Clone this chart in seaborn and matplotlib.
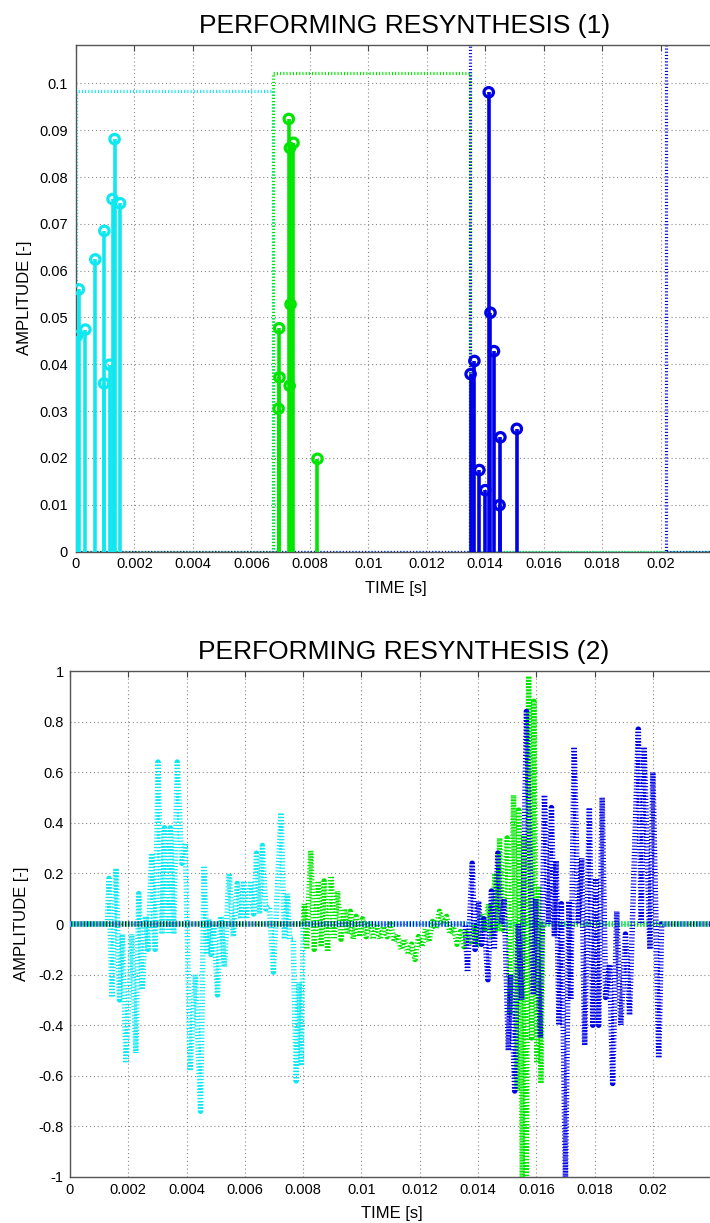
import numpy as np
import matplotlib
matplotlib.use("Agg")
import matplotlib.pyplot as plt
import seaborn as sns
from matplotlib.ticker import FuncFormatter

# ===============================
# Data
# ===============================

# --- panel 1: peak amplitudes per frame (stems)
cyan_peak_t = [0.00003, 0.0001, 0.00032, 0.00066, 0.00096, 0.00097, 0.00115, 0.00125, 0.00132, 0.00151]
cyan_peak_a = [0.046, 0.056, 0.0474, 0.0624, 0.0359, 0.0685, 0.0399, 0.0753, 0.0881, 0.0744]

green_peak_t = [0.00693, 0.00695, 0.00696, 0.00728, 0.00731, 0.00732, 0.00734, 0.00744, 0.00826]
green_peak_a = [0.0305, 0.0477, 0.0372, 0.0924, 0.0354, 0.0862, 0.0528, 0.0873, 0.0198]

blue_peak_t = [0.0135, 0.01363, 0.0138, 0.0140, 0.01412, 0.01418, 0.0143, 0.01449, 0.01452, 0.01508]
blue_peak_a = [0.0379, 0.0407, 0.0174, 0.0131, 0.0981, 0.051, 0.0428, 0.0099, 0.0244, 0.0262]

# --- panel 1: analysis windows (dotted rectangles)
cyan_win_t = [0.0, 0.0, 0.00675, 0.00675, 0.0229]
cyan_win_a = [0.0, 0.0983, 0.0983, 0.0, 0.0]
green_win_t = [0.0, 0.00675, 0.00675, 0.01348, 0.01348, 0.0229]
green_win_a = [0.0, 0.0, 0.1023, 0.1023, 0.0, 0.0]
blue_win_t = [0.0, 0.01348, 0.01348, 0.0202, 0.0202, 0.0229]
blue_win_a = [0.0, 0.0, 0.13, 0.13, 0.0, 0.0]

# --- panel 2: resynthesised frames (extremes of each oscillation column)
cyan_t = [0.0, 0.00128,
          0.00134, 0.00144, 0.00158, 0.00170, 0.00180, 0.00192, 0.00212, 0.00226,
          0.00236, 0.00248, 0.00260, 0.00268, 0.00280, 0.00292, 0.00302, 0.00316,
          0.00324, 0.00338, 0.00344, 0.00356, 0.00368, 0.00384, 0.00396, 0.00412,
          0.00430, 0.00448, 0.00460, 0.00470, 0.00476, 0.00484, 0.00494, 0.00506,
          0.00518, 0.00530, 0.00546, 0.00560, 0.00574, 0.00586, 0.00596, 0.00606,
          0.00620, 0.00630, 0.00640, 0.00650, 0.00660, 0.00672, 0.00684, 0.00698,
          0.00724, 0.00736, 0.00746, 0.00754, 0.00766, 0.00776, 0.00786, 0.00794,
          0.00800, 0.0229]
cyan_y = [0.0, 0.0,
          0.18, -0.29, 0.22, -0.30, -0.04, -0.55, -0.04, -0.51,
          0.12, -0.26, 0.03, -0.10, 0.28, -0.10, 0.64, -0.04,
          0.38, -0.04, 0.38, -0.04, 0.64, 0.24, 0.32, -0.58,
          -0.20, -0.74, 0.23, -0.12, 0.02, -0.12, 0.00, -0.28,
          0.03, -0.17, 0.20, -0.05, 0.16, 0.02, 0.17, 0.02,
          0.17, 0.04, 0.28, 0.04, 0.31, 0.06, 0.07, -0.19,
          0.44, -0.06, 0.12, -0.06, -0.06, -0.62, -0.23, -0.56,
          0.0, 0.0]

green_t = [0.0, 0.00800,
           0.00804, 0.00812, 0.00826, 0.00838, 0.00852, 0.00862, 0.00872, 0.00884,
           0.00896, 0.00906, 0.00918, 0.00930, 0.00942, 0.00952,
           0.00962, 0.00972, 0.00982, 0.00994, 0.01004, 0.01016, 0.01028, 0.01040,
           0.01052, 0.01064, 0.01076, 0.01088, 0.01100, 0.01112, 0.01124, 0.01136,
           0.01148, 0.01160, 0.01172, 0.01184, 0.01196, 0.01208, 0.01220, 0.01232,
           0.01244, 0.01256, 0.01268, 0.01280, 0.01292, 0.01304, 0.01316, 0.01328,
           0.01340, 0.01352, 0.01364, 0.01376, 0.01388, 0.01400, 0.01412, 0.01424,
           0.01436, 0.01448,
           0.01458, 0.01466, 0.01474, 0.01484, 0.01500, 0.01510, 0.01522, 0.01534,
           0.01540, 0.01552, 0.01558, 0.01566, 0.01574, 0.01584, 0.01592, 0.01602,
           0.01608, 0.01616, 0.01622, 0.0229]
green_y = [0.0, 0.0,
           0.08, -0.10, 0.29, -0.10, 0.17, -0.09, 0.17, -0.11,
           0.19, -0.06, 0.13, -0.06, 0.06, -0.04,
           0.05, -0.06, 0.03, -0.05, 0.02, -0.05, 0.01, -0.06,
           0.00, -0.06, -0.01, -0.05, 0.00, -0.07, -0.04, -0.10,
           -0.06, -0.12, -0.08, -0.14, -0.05, -0.09, -0.02, -0.07,
           0.01, -0.02, 0.05, 0.00, 0.03, -0.04, -0.01, -0.08,
           -0.03, -0.09, -0.02, -0.07, 0.00, -0.08, 0.04, -0.03,
           0.08, -0.06,
           0.20, -0.03, 0.34, -0.02, 0.34, -0.35, 0.51, -0.66,
           0.45, -1.0, 0.35, -1.0, 0.98, -0.45, 0.88, -0.55,
           0.15, -0.63, 0.0, 0.0]

blue_t = [0.0, 0.01350,
          0.01356, 0.01364, 0.01380, 0.01390, 0.01402, 0.01412, 0.01420, 0.01434,
          0.01446, 0.01456, 0.01468, 0.01480, 0.01490, 0.01504, 0.01512, 0.01526,
          0.01538, 0.01550, 0.01566, 0.01590, 0.01598, 0.01614, 0.01628, 0.01642,
          0.01652, 0.01662, 0.01668, 0.01678, 0.01686, 0.01700, 0.01712, 0.01718,
          0.01730, 0.01744, 0.01756, 0.01766, 0.01782, 0.01794, 0.01804, 0.01814,
          0.01826, 0.01838, 0.01852, 0.01862, 0.01876, 0.01890, 0.01906, 0.01920,
          0.01950, 0.01960, 0.01970, 0.01990, 0.02000, 0.02020,
          0.02030, 0.0229]
blue_y = [0.0, 0.0,
          0.00, -0.19, 0.24, -0.10, 0.09, -0.08, 0.02, -0.22,
          0.13, -0.10, 0.28, 0.00, 0.10, -0.50, -0.20, -0.66,
          0.00, -0.30, 0.84, -0.28, 0.10, -0.45, 0.51, 0.00,
          0.46, -0.05, 0.25, -0.40, 0.08, -1.0, 0.09, -0.30,
          0.70, 0.00, 0.26, -0.48, 0.46, -0.40, 0.18, -0.40,
          0.50, -0.29, -0.16, -0.63, 0.05, -0.40, -0.04, -0.36,
          0.77, 0.00, 0.70, -0.10, 0.60, -0.53,
          0.0, 0.0]

titles = ["PERFORMING RESYNTHESIS (1)", "PERFORMING RESYNTHESIS (2)"]
xlabel = "TIME [s]"
ylabel = "AMPLITUDE [-]"

CYAN, GREEN, BLUE = "#10e8f0", "#00e600", "#0000e6"

# ===============================
# Style
# ===============================

sns.set_style("white")
plt.rcParams["font.family"] = ["Liberation Sans", "DejaVu Sans"]
plt.rcParams["text.color"] = "black"

fig = plt.figure(figsize=(7.1, 12.23), dpi=100)
W, H = 710, 1223
ax1 = fig.add_axes([76 / W, (H - 551.5) / H, (W - 76) / W, (551.5 - 45) / H])
ax2 = fig.add_axes([70 / W, (H - 1177) / H, (W - 70) / W, (1177 - 671) / H])


def tick_fmt(v, pos):
    v = round(v, 6)
    if abs(v) < 1e-9:
        v = 0.0
    return "%g" % v


fmt = FuncFormatter(tick_fmt)
grid_kw = dict(color="#8a8a8a", linewidth=0.8, linestyle=(0, (1, 2.5)))

# ===============================
# Panel 1
# ===============================

win_ls = [(0, (0.35, 0.65)), (0.33, (0.35, 0.65)), (0.66, (0.35, 0.65))]
for (wt, wa, c), ls in zip([(cyan_win_t, cyan_win_a, CYAN),
                            (green_win_t, green_win_a, GREEN),
                            (blue_win_t, blue_win_a, BLUE)], win_ls):
    sns.lineplot(x=wt, y=wa, ax=ax1, sort=False, estimator=None, color=c,
                 linewidth=2.3, linestyle=ls, legend=False, zorder=2)

for pt, pa, c in [(cyan_peak_t, cyan_peak_a, CYAN),
                  (green_peak_t, green_peak_a, GREEN),
                  (blue_peak_t, blue_peak_a, BLUE)]:
    ax1.vlines(pt, 0, pa, colors=c, linewidth=2.6, zorder=3)
    sns.scatterplot(x=pt, y=pa, ax=ax1, marker="o", s=46, color=c,
                    facecolor="none", edgecolor=c, linewidth=2.3,
                    legend=False, zorder=4)

ax1.set_xlim(0, 0.02169)
ax1.set_ylim(0, 0.1082)
ax1.set_xticks(np.arange(0, 0.0201, 0.002))
ax1.set_yticks(np.arange(0, 0.1001, 0.01))

# ===============================
# Panel 2
# ===============================

sig_ls = [(0, (0.2, 0.37)), (0.19, (0.2, 0.37)), (0.38, (0.2, 0.37))]
for (st, sy, c), ls in zip([(cyan_t, cyan_y, CYAN),
                            (green_t, green_y, GREEN),
                            (blue_t, blue_y, BLUE)], sig_ls):
    sns.lineplot(x=st, y=sy, ax=ax2, sort=False, estimator=None, color=c,
                 linewidth=4.0, linestyle=ls, legend=False, zorder=3)

ax2.set_xlim(0, 0.02196)
ax2.set_ylim(-1, 1)
ax2.set_xticks(np.arange(0, 0.0201, 0.002))
ax2.set_yticks(np.arange(-1, 1.001, 0.2))

# ===============================
# Common axes look (MATLAB-like)
# ===============================

for ax, ypad in [(ax1, 6), (ax2, 4.5)]:
    ax.xaxis.set_major_formatter(fmt)
    ax.yaxis.set_major_formatter(fmt)
    ax.grid(True, **grid_kw)
    ax.set_axisbelow(True)
    ax.tick_params(axis="both", direction="in", length=4, width=0.8,
                   color="#444444", labelsize=10.5, labelcolor="black",
                   top=True, right=False)
    ax.tick_params(axis="x", pad=4)
    ax.tick_params(axis="y", pad=ypad)
    for side in ["left", "bottom", "top"]:
        ax.spines[side].set_color("#555555")
        ax.spines[side].set_linewidth(1.0)
    ax.spines["right"].set_visible(False)
    ax.set_xlabel("")
    ax.set_ylabel("")

# titles and labels
fig.text(404.5 / W, 1 - 33 / H, titles[0], ha="center", va="baseline", fontsize=19, color="black")
fig.text(404 / W, 1 - 659 / H, titles[1], ha="center", va="baseline", fontsize=19, color="black")
fig.text(396 / W, 1 - 593 / H, xlabel, ha="center", va="baseline", fontsize=12, color="black")
fig.text(392 / W, 1 - 1218 / H, xlabel, ha="center", va="baseline", fontsize=12, color="black")
fig.text(25 / W, 1 - 298 / H, ylabel, ha="center", va="center", rotation=90, fontsize=12, color="black")
fig.text(22 / W, 1 - 924 / H, ylabel, ha="center", va="center", rotation=90, fontsize=12, color="black")

fig.savefig("out.png", dpi=100)
plt.close(fig)
